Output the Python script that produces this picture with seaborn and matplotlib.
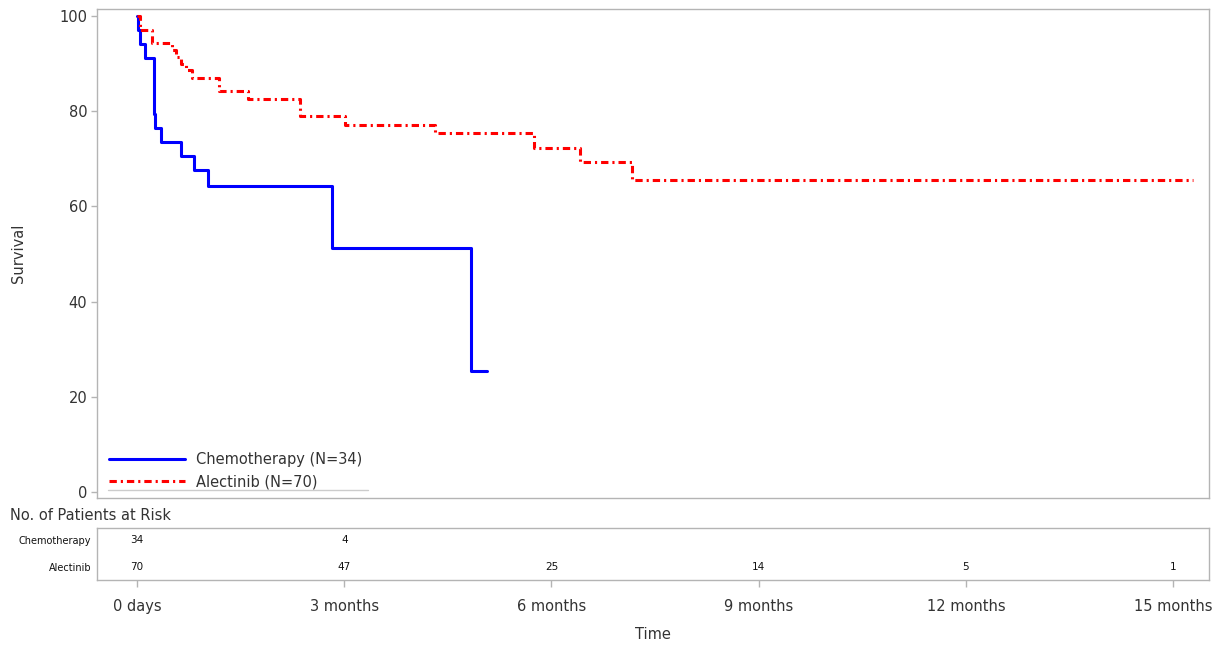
import pandas as pd
import matplotlib.pyplot as plt
import seaborn as sns
from matplotlib.lines import Line2D

## Data (time in months, survival in %) ##
chemo_time = [0, 0.01, 0.04, 0.12, 0.24, 0.26, 0.35, 0.64, 0.83, 1.02, 2.82, 4.83, 5.06]
chemo_surv = [100, 97.1, 94.1, 91.2, 79.4, 76.5, 73.5, 70.6, 67.6, 64.4, 51.3, 25.4, 25.4]

alec_time = [0, 0.04, 0.21, 0.50, 0.57, 0.64, 0.71, 0.79, 1.18, 1.61, 2.36, 3.01,
             4.32, 5.74, 6.42, 7.16, 15.29]
alec_surv = [100, 97.1, 94.3, 92.9, 91.4, 90.0, 88.6, 86.9, 84.2, 82.5, 79.0, 77.1,
             75.4, 72.2, 69.4, 65.5, 65.5]

groups = ['Chemotherapy', 'Alectinib']
group_n = [34, 70]

# numbers at risk
risk_months = [0, 3, 6, 9, 12, 15]
risk_chemo = ['34', '4', '', '', '', '']
risk_alec = ['70', '47', '25', '14', '5', '1']
month_labels = ['0 days', '3 months', '6 months', '9 months', '12 months', '15 months']
surv_ticks = [0, 20, 40, 60, 80, 100]

sns.set_theme(style='white')
plt.rcParams['font.family'] = ['DejaVu Sans']

frame_col = '#b4b4b4'
text_col = '#333333'

fig = plt.figure(figsize=(12.2, 6.46), dpi=100)
ax = fig.add_axes([0.0795, 0.2291, 0.9115, 0.757])
ax_risk = fig.add_axes([0.0795, 0.1022, 0.9115, 0.0805])

# Build a long table for seaborn
curves = pd.concat([
    pd.DataFrame({'time': chemo_time, 'survival': chemo_surv,
                  'group': '{} (N={})'.format(groups[0], group_n[0])}),
    pd.DataFrame({'time': alec_time, 'survival': alec_surv,
                  'group': '{} (N={})'.format(groups[1], group_n[1])}),
])
names = curves['group'].unique()

sns.lineplot(data=curves[curves.group == names[0]], x='time', y='survival',
             drawstyle='steps-post', estimator=None, sort=False,
             color='#0000ff', lw=2.2, label=names[0], ax=ax)
sns.lineplot(data=curves[curves.group == names[1]], x='time', y='survival',
             drawstyle='steps-post', estimator=None, sort=False,
             color='#ff0000', lw=2.2, linestyle=(0, (2.4, 1.3, 0.7, 1.3)),
             label=names[1], ax=ax)

xlim = (-0.58, 15.52)
ax.set(xlim=xlim, ylim=(-1.26, 101.5), xlabel='')
ax.set_ylabel('Survival', fontsize=10.5, color=text_col, labelpad=24)
ax.set_xticks([])
ax.set_yticks(surv_ticks)
ax.tick_params(axis='y', left=True, length=4, width=1, color=frame_col,
               labelsize=10.5, labelcolor=text_col, pad=3)
for sp in ax.spines.values():
    sp.set_color(frame_col)
    sp.set_linewidth(1)

leg = ax.legend(loc='lower left', bbox_to_anchor=(0.004, 0.002), frameon=False,
                fontsize=10.5, handlelength=5.2, handletextpad=0.75,
                labelspacing=0.5, borderaxespad=0.3, borderpad=0.25)
for t in leg.get_texts():
    t.set_color(text_col)
ax.add_line(Line2D([0.01, 0.244], [0.016, 0.016], transform=ax.transAxes,
                   color='#cccccc', lw=1))

# Risk table
row_y = [0.77, 0.25]
for y, vals in zip(row_y, [risk_chemo, risk_alec]):
    for m, v in zip(risk_months, vals):
        ax_risk.text(m, y, v, ha='center', va='center', fontsize=7.5, color='#111111')
ax_risk.set(xlim=xlim, ylim=(0, 1))
ax_risk.set_xticks(risk_months)
ax_risk.set_xticklabels(month_labels)
ax_risk.set_yticks(row_y)
ax_risk.set_yticklabels(groups)
ax_risk.tick_params(axis='x', bottom=True, length=5, width=1, color=frame_col,
                    labelsize=10.5, labelcolor=text_col, pad=9)
ax_risk.tick_params(axis='y', left=False, length=0, labelsize=7, labelcolor='#111111', pad=4)
ax_risk.set_xlabel('Time', fontsize=10.5, color=text_col, labelpad=9)
for sp in ax_risk.spines.values():
    sp.set_color(frame_col)
    sp.set_linewidth(1)

fig.text(10 / 1220, 1 - 516 / 646, 'No. of Patients at Risk', fontsize=10.5,
         color=text_col, va='center', ha='left')

fig.savefig('out.png', dpi=100)
